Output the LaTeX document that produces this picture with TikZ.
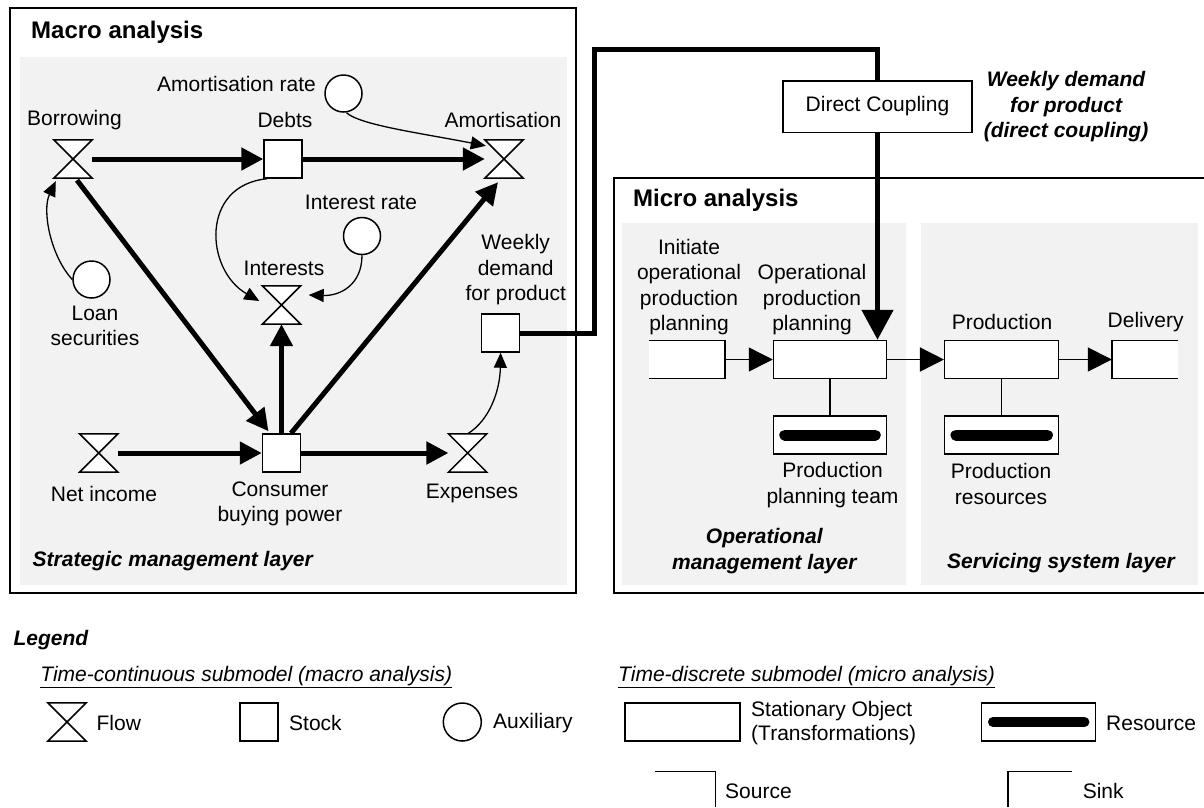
\documentclass[tikz,border=0pt]{standalone}
\usepackage{fontspec}
\setmainfont{Liberation Sans}
\usetikzlibrary{arrows.meta,calc}
\definecolor{panel}{RGB}{242,242,242}
\begin{document}
\begin{tikzpicture}[x=1pt,y=-1pt,
  txt/.style={font=\fontsize{21}{25.5}\selectfont, align=center, inner sep=0pt},
  ltxt/.style={txt, anchor=west, align=left},
  layer/.style={txt, font=\fontsize{21}{25.5}\selectfont\bfseries\itshape},
  mytitle/.style={font=\fontsize{24}{28}\selectfont\bfseries, inner sep=0pt, anchor=west},
  boxframe/.style={draw, line width=1.5pt},
  stock/.style={draw, fill=white, line width=1.5pt, minimum width=38pt, minimum height=38pt, inner sep=0pt},
  flownode/.style={minimum width=38pt, minimum height=38pt, inner sep=0pt},
  aux/.style={draw, fill=white, circle, line width=1.5pt, minimum size=37pt, inner sep=0pt},
  obj/.style={draw, fill=white, line width=1.5pt, minimum width=114pt, minimum height=38pt, inner sep=0pt},
  hg/.style={draw, fill=white, line width=1.5pt, line join=miter},
  flowarrow/.style={line width=5pt, -{Triangle[length=22pt,width=22pt]}},
  info/.style={line width=1.3pt, -{Triangle[length=15pt,width=13pt]}},
  movearrow/.style={line width=1.5pt, -{Triangle[length=24pt,width=24pt]}},
  coupling/.style={line width=5pt, line join=miter},
  resbar/.style={line width=11pt, line cap=round},
  openbox/.style={line width=1.5pt},
]
\useasboundingbox (0,0) rectangle (1204,807);

% ---------- frames and panels ----------
\draw[boxframe] (10,8) rectangle (576,593);
\fill[panel] (20,57) rectangle (567,585);
\node[mytitle] (mtitle) at (31,32) {Macro analysis};

\draw[boxframe] (1204,178) -- (614,178) -- (614,593) -- (1204,593);
\fill[panel] (622,223) rectangle (905.6,585);
\fill[panel] (921,223) rectangle (1198,585);
\node[mytitle] (mictitle) at (633,200) {Micro analysis};

% ---------- macro nodes ----------
\node[flownode] (bor) at (73,159) {};
\node[stock] (debts) at (283,159) {};
\node[flownode] (amo) at (504,159) {};
\node[aux] (arate) at (343.5,93.5) {};
\node[aux] (irate) at (362,236) {};
\node[flownode] (intf) at (281.5,305) {};
\node[aux] (loan) at (91.5,279.5) {};
\node[stock] (wdem) at (500.6,333) {};
\node[flownode] (net) at (98.7,453) {};
\node[stock] (cbp) at (281.5,453) {};
\node[flownode] (expf) at (467.6,453) {};

\node[txt] (lbor) at (74.5,120) {Borrowing};
\node[txt] (ldebts) at (285,120) {Debts};
\node[txt] (lamo) at (503,120) {Amortisation};
\node[txt] (larate) at (236.5,84) {Amortisation rate};
\node[txt] (lirate) at (361,202) {Interest rate};
\node[txt] (lint) at (284,268) {Interests};
\node[txt] (lloan) at (95,326) {Loan\\securities};
\node[txt] (lwdem) at (515.7,270) {Weekly\\demand\\for product};
\node[txt] (lnet) at (104,494) {Net income};
\node[txt] (lcbp) at (280,504) {Consumer\\buying power};
\node[txt] (lexp) at (472,493) {Expenses};
\node[layer, anchor=west] (lstrat) at (32.5,561) {Strategic management layer};

% ---------- macro flows ----------
\draw[flowarrow] (bor.east) -- (debts.west);
\draw[flowarrow] (debts.east) -- (amo.west);
\draw[flowarrow] ($(bor.south)+(4,2)$) -- ($(cbp.north)+(-13,-2)$);
\draw[flowarrow] ($(cbp.north)+(9.5,0)$) -- ($(amo.south)+(-6,4)$);
\draw[flowarrow] (cbp.north) -- (intf.south);
\draw[flowarrow] (net.east) -- (cbp.west);
\draw[flowarrow] (cbp.east) -- (expf.west);

% ---------- information links ----------
\draw[info] ($(arate.south)+(3,0)$) .. controls (360,125) and (420,133) .. ($(amo.north west)+(1,6)$);
\draw[info] (irate.south) .. controls (362,285) and (340,296) .. ($(intf.east)+(8,-10)$);
\draw[info] ($(debts.south west)+(4,0)$) .. controls (200,185) and (205,270) .. ($(intf.west)+(-3,-4)$);
\draw[info] (loan.west) .. controls (50,255) and (42,210) .. ($(bor.south west)+(2,3)$);
\draw[info] (expf.north) .. controls (490,420) and (500,390) .. (wdem.south);

% hourglasses
\foreach \n in {bor,amo,intf,net,expf}
  \draw[hg] (\n.north west) -- (\n.north east) -- (\n.south west) -- (\n.south east) -- cycle;

% ---------- coupling ----------
\node[draw, fill=white, line width=1.5pt, minimum width=189pt, minimum height=51.5pt, inner sep=0pt,
      font=\fontsize{21}{25.5}\selectfont] (dc) at (877.5,106.5) {Direct Coupling};
\node[layer] (lcoup) at (1066,107) {Weekly demand\\for product\\(direct coupling)};
\coordinate (cornerA) at (594.5,49.5);
\draw[coupling] (wdem.east) -| (cornerA) -| (dc.north);

% ---------- micro nodes ----------
\node[obj, minimum width=113pt] (opp) at (830,359.5) {};
\node[obj] (prod) at (1001.7,359.5) {};
\node[fill=white, minimum width=76pt, minimum height=38pt, inner sep=0pt] (init) at (687,359.5) {};
\draw[openbox] (init.north west) -- (init.north east) -- (init.south east) -- (init.south west);
\node[fill=white, minimum width=66pt, minimum height=38pt, inner sep=0pt] (deliv) at (1145,359.5) {};
\draw[openbox] (deliv.north east) -- (deliv.north west) -- (deliv.south west) -- (deliv.south east);
\node[obj, minimum width=113pt] (res1) at (830,435) {};
\node[obj] (res2) at (1001.7,435) {};
\draw[resbar] ($(res1.west)+(12,0)$) -- ($(res1.east)+(-12,0)$);
\draw[resbar] ($(res2.west)+(12,0)$) -- ($(res2.east)+(-12,0)$);
\draw[openbox] (opp.south) -- (res1.north);
\draw[openbox] (prod.south) -- (res2.north);
\draw[movearrow] (init.east) -- (opp.west);
\draw[movearrow] (opp.east) -- (prod.west);
\draw[movearrow] (prod.east) -- (deliv.west);
\draw[coupling, -{Triangle[length=30pt,width=31pt]}] (dc.south) -- (dc.south |- opp.north);

\node[txt] (linit) at (689,287) {Initiate\\operational\\production\\planning};
\node[txt] (lopp) at (812,300) {Operational\\production\\planning};
\node[txt] (lprod) at (1002,322) {Production};
\node[txt] (ldeliv) at (1145.6,322) {Delivery};
\node[txt] (lres1) at (832.5,485) {Production\\planning team};
\node[txt] (lres2) at (1001,484) {Production\\resources};
\node[layer] (lop) at (764.3,551) {Operational\\management layer};
\node[layer] (lserv) at (1061,563) {Servicing system layer};

% ---------- legend ----------
\node[layer, anchor=west] (lleg) at (13.4,640) {Legend};
\node[ltxt, font=\fontsize{21}{25.5}\selectfont\itshape] (ltc) at (40.2,677) {\underline{Time-continuous submodel (macro analysis)}};
\node[flownode] (legflow) at (67,722) {};
\draw[hg] (legflow.north west) -- (legflow.north east) -- (legflow.south west) -- (legflow.south east) -- cycle;
\node[ltxt] (llflow) at (96.4,723) {Flow};
\node[stock] (legstock) at (259,722) {};
\node[ltxt] (llstock) at (289,723) {Stock};
\node[aux, minimum size=38pt] (legaux) at (462.3,722) {};
\node[ltxt] (llaux) at (493,723) {Auxiliary};

\node[ltxt, font=\fontsize{21}{25.5}\selectfont\itshape] (ltd) at (618,677) {\underline{Time-discrete submodel (micro analysis)}};
\node[obj, minimum width=115pt] (legobj) at (682.5,722) {};
\node[ltxt, font=\fontsize{21}{24}\selectfont] (llobj) at (751,723) {Stationary Object\\(Transformations)};
\node[obj] (legres) at (1038.7,722) {};
\draw[resbar, line width=10pt] ($(legres.west)+(12,0)$) -- ($(legres.east)+(-12,0)$);
\node[ltxt] (llres) at (1106,723) {Resource};

\coordinate (srcA) at (654.6,771.7);
\coordinate (srcB) at (715.3,771.7);
\coordinate (srcC) at (715.3,807);
\draw[openbox] (srcA) -- (srcB) -- (srcC);
\node[ltxt] (llsrc) at (725,791) {Source};
\coordinate (snkA) at (1008,807);
\coordinate (snkB) at (1008,771.7);
\coordinate (snkC) at (1072,771.7);
\draw[openbox] (snkA) -- (snkB) -- (snkC);
\node[ltxt] (llsnk) at (1082.6,791) {Sink};
\end{tikzpicture}
\end{document}
